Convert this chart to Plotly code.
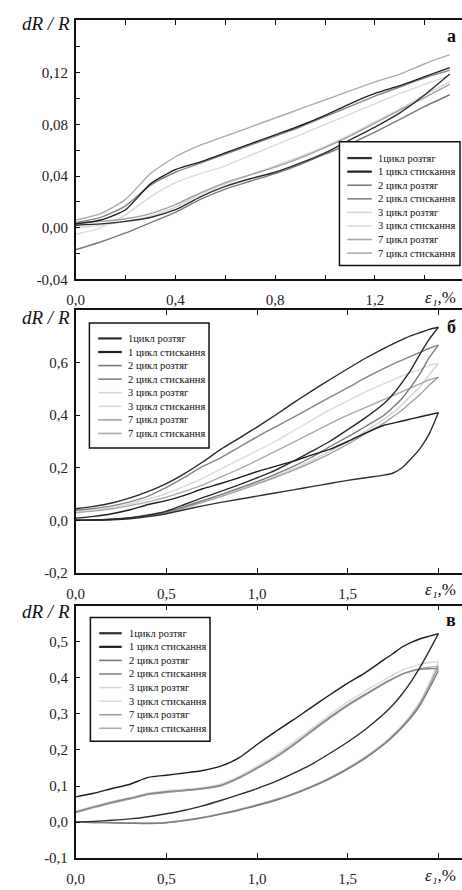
import plotly.graph_objects as go

W, H = 462, 890

# ---------------- data ----------------
SERIES = ["1цикл розтяг", "1 цикл стискання", "2 цикл розтяг", "2 цикл стискання",
          "3 цикл розтяг", "3 цикл стискання", "7 цикл розтяг", "7 цикл стискання"]

# panel а
XA = [0.0, 0.1, 0.2, 0.3, 0.4, 0.5, 0.6, 0.7, 0.8, 0.9, 1.0, 1.1, 1.2, 1.3, 1.4, 1.5]
A_T1 = [0.002, 0.003, 0.005, 0.008, 0.014, 0.024, 0.032, 0.038, 0.043, 0.050, 0.058, 0.068, 0.078, 0.089, 0.103, 0.119]
A_C1 = [0.003, 0.006, 0.014, 0.034, 0.045, 0.051, 0.058, 0.065, 0.072, 0.079, 0.087, 0.096, 0.104, 0.110, 0.117, 0.124]
A_T2 = [-0.017, -0.011, -0.004, 0.004, 0.012, 0.022, 0.030, 0.036, 0.042, 0.049, 0.057, 0.065, 0.074, 0.084, 0.094, 0.103]
A_C2 = [0.004, 0.008, 0.017, 0.033, 0.043, 0.050, 0.057, 0.064, 0.071, 0.078, 0.086, 0.094, 0.102, 0.109, 0.116, 0.122]
A_T3 = [0.000, 0.002, 0.005, 0.009, 0.016, 0.026, 0.034, 0.041, 0.048, 0.055, 0.063, 0.072, 0.082, 0.092, 0.103, 0.113]
A_C3 = [-0.005, 0.000, 0.010, 0.024, 0.035, 0.042, 0.048, 0.056, 0.064, 0.072, 0.080, 0.088, 0.096, 0.104, 0.111, 0.118]
A_T7 = [0.004, 0.005, 0.007, 0.011, 0.018, 0.027, 0.035, 0.041, 0.047, 0.054, 0.062, 0.071, 0.081, 0.091, 0.101, 0.111]
A_C7 = [0.006, 0.011, 0.022, 0.042, 0.055, 0.064, 0.071, 0.078, 0.085, 0.092, 0.099, 0.106, 0.113, 0.119, 0.127, 0.134]

# panels б and в share one strain grid
XBC = [0.0, 0.1, 0.2, 0.3, 0.4, 0.5, 0.6, 0.7, 0.8, 0.9, 1.0, 1.1, 1.2, 1.3, 1.4, 1.5,
       1.6, 1.7, 1.75, 1.8, 1.85, 1.9, 1.95, 2.0]

# panel б
B_T1 = [0.000, 0.000, 0.002, 0.006, 0.014, 0.025, 0.040, 0.055, 0.068, 0.080, 0.092, 0.104, 0.116, 0.128, 0.140, 0.152, 0.162, 0.172, 0.180, 0.200, 0.235, 0.275, 0.330, 0.410]
B_C1 = [0.008, 0.015, 0.025, 0.040, 0.060, 0.075, 0.095, 0.120, 0.140, 0.162, 0.185, 0.205, 0.225, 0.248, 0.270, 0.300, 0.333, 0.362, 0.370, 0.378, 0.386, 0.394, 0.402, 0.410]
B_T2 = [0.000, 0.001, 0.004, 0.009, 0.018, 0.032, 0.052, 0.075, 0.098, 0.122, 0.147, 0.175, 0.205, 0.240, 0.280, 0.318, 0.358, 0.400, 0.430, 0.465, 0.510, 0.560, 0.620, 0.667]
B_C2 = [0.038, 0.045, 0.055, 0.070, 0.092, 0.125, 0.163, 0.205, 0.238, 0.278, 0.318, 0.355, 0.392, 0.430, 0.468, 0.505, 0.543, 0.578, 0.595, 0.610, 0.625, 0.640, 0.655, 0.667]
B_T3 = [0.000, 0.001, 0.004, 0.009, 0.018, 0.031, 0.050, 0.072, 0.095, 0.118, 0.142, 0.168, 0.196, 0.228, 0.262, 0.300, 0.340, 0.385, 0.410, 0.440, 0.475, 0.510, 0.555, 0.597]
B_C3 = [0.031, 0.038, 0.048, 0.062, 0.080, 0.102, 0.130, 0.160, 0.195, 0.230, 0.265, 0.300, 0.340, 0.380, 0.420, 0.455, 0.490, 0.520, 0.535, 0.550, 0.562, 0.575, 0.590, 0.597]
B_T7 = [0.000, 0.001, 0.003, 0.008, 0.016, 0.029, 0.047, 0.068, 0.090, 0.113, 0.138, 0.163, 0.190, 0.220, 0.253, 0.290, 0.330, 0.370, 0.395, 0.420, 0.450, 0.480, 0.515, 0.545]
B_C7 = [0.029, 0.035, 0.044, 0.056, 0.070, 0.088, 0.110, 0.135, 0.165, 0.195, 0.228, 0.262, 0.297, 0.332, 0.367, 0.400, 0.430, 0.460, 0.475, 0.490, 0.505, 0.520, 0.535, 0.545]
# additional dark loop of panel б (peak 0.735)
B_EXTRA_T = [0.000, 0.001, 0.004, 0.010, 0.020, 0.035, 0.060, 0.086, 0.110, 0.135, 0.162, 0.190, 0.225, 0.262, 0.300, 0.345, 0.392, 0.445, 0.480, 0.525, 0.575, 0.635, 0.690, 0.735]
B_EXTRA_C = [0.044, 0.053, 0.066, 0.085, 0.110, 0.140, 0.178, 0.222, 0.270, 0.312, 0.355, 0.400, 0.447, 0.492, 0.535, 0.577, 0.618, 0.655, 0.672, 0.688, 0.703, 0.715, 0.727, 0.735]

# panel в
C_T1 = [0.000, 0.002, 0.005, 0.009, 0.015, 0.023, 0.033, 0.045, 0.060, 0.076, 0.093, 0.112, 0.135, 0.160, 0.190, 0.222, 0.258, 0.300, 0.325, 0.355, 0.390, 0.430, 0.475, 0.522]
C_C1 = [0.070, 0.080, 0.093, 0.105, 0.124, 0.130, 0.136, 0.143, 0.155, 0.178, 0.215, 0.250, 0.283, 0.318, 0.352, 0.385, 0.415, 0.450, 0.467, 0.485, 0.498, 0.508, 0.515, 0.522]
C_T2 = [0.000, -0.001, -0.002, -0.003, -0.004, -0.002, 0.004, 0.012, 0.022, 0.033, 0.046, 0.060, 0.077, 0.097, 0.120, 0.147, 0.178, 0.215, 0.237, 0.262, 0.290, 0.325, 0.370, 0.420]
C_C2 = [0.028, 0.042, 0.055, 0.066, 0.078, 0.084, 0.088, 0.093, 0.102, 0.123, 0.150, 0.180, 0.215, 0.253, 0.290, 0.325, 0.355, 0.385, 0.398, 0.410, 0.418, 0.423, 0.425, 0.425]
C_T3 = [0.000, 0.000, -0.001, -0.002, -0.003, -0.001, 0.005, 0.013, 0.023, 0.034, 0.047, 0.062, 0.079, 0.099, 0.123, 0.150, 0.182, 0.220, 0.243, 0.268, 0.298, 0.335, 0.385, 0.445]
C_C3 = [0.030, 0.044, 0.057, 0.068, 0.080, 0.087, 0.091, 0.096, 0.106, 0.127, 0.155, 0.186, 0.221, 0.259, 0.297, 0.333, 0.364, 0.394, 0.408, 0.421, 0.430, 0.437, 0.442, 0.445]
C_T7 = [0.000, -0.001, -0.002, -0.003, -0.003, -0.001, 0.005, 0.013, 0.023, 0.035, 0.048, 0.062, 0.079, 0.099, 0.122, 0.149, 0.180, 0.217, 0.240, 0.265, 0.294, 0.330, 0.378, 0.432]
C_C7 = [0.026, 0.040, 0.053, 0.064, 0.076, 0.082, 0.087, 0.092, 0.100, 0.121, 0.148, 0.178, 0.212, 0.250, 0.287, 0.322, 0.353, 0.383, 0.397, 0.410, 0.419, 0.425, 0.429, 0.432]

# tick labels (labelled) and unlabelled tick positions
A_XTICKS = [0.0, 0.4, 0.8, 1.2]
A_XLABELS = ["0,0", "0,4", "0,8", "1,2"]
A_XMINOR = [0.2, 0.6, 1.0, 1.4]
A_YTICKS = [-0.04, 0.0, 0.04, 0.08, 0.12]
A_YLABELS = ["-0,04", "0,00", "0,04", "0,08", "0,12"]
A_YMINOR = [-0.02, 0.02, 0.06, 0.10, 0.14]
BC_XTICKS = [0.0, 0.5, 1.0, 1.5]
BC_XLABELS = ["0,0", "0,5", "1,0", "1,5"]
BC_XMINOR = [2.0]
B_YTICKS = [-0.2, 0.0, 0.2, 0.4, 0.6]
B_YLABELS = ["-0,2", "0,0", "0,2", "0,4", "0,6"]
C_YTICKS = [-0.1, 0.0, 0.1, 0.2, 0.3, 0.4, 0.5]
C_YLABELS = ["-0,1", "0,0", "0,1", "0,2", "0,3", "0,4", "0,5"]

# ---------------- styles ----------------
COLORS = ["#2e2e2e", "#1e1e1e", "#7a7a7a", "#848484", "#d4d4d4", "#dadada", "#a2a2a2", "#aaaaaa"]
LEG_WIDTHS = [2.2, 2.2, 1.6, 1.6, 1.6, 1.6, 1.6, 1.6]
DRAW_ORDER = [4, 5, 6, 7, 2, 3, 0, 1]
SERIF = "Liberation Serif"


def fx(px):
    return px / W


def fy(py):
    return 1 - py / H


fig = go.Figure()

panels = [
    (XA, [A_T1, A_C1, A_T2, A_C2, A_T3, A_C3, A_T7, A_C7], "x", "y"),
    (XBC, [B_T1, B_C1, B_T2, B_C2, B_T3, B_C3, B_T7, B_C7], "x2", "y2"),
    (XBC, [C_T1, C_C1, C_T2, C_C2, C_T3, C_C3, C_T7, C_C7], "x3", "y3"),
]

for xs, ys_list, xa, ya in panels:
    for i in DRAW_ORDER:
        fig.add_trace(go.Scatter(x=xs, y=ys_list[i], mode="lines", name=SERIES[i],
                                 line=dict(color=COLORS[i], width=1.4, shape="spline", smoothing=0.6),
                                 xaxis=xa, yaxis=ya, showlegend=False))
    if xa == "x2":
        for ys in (B_EXTRA_T, B_EXTRA_C):
            fig.add_trace(go.Scatter(x=xs, y=ys, mode="lines",
                                     line=dict(color="#2a2a2a", width=1.4, shape="spline", smoothing=0.6),
                                     xaxis=xa, yaxis=ya, showlegend=False, hoverinfo="skip"))

tickfont = dict(family=SERIF, size=15, color="#222")
common = dict(showline=True, linecolor="#111", linewidth=1.6, ticks="inside", ticklen=5,
              tickwidth=1.4, tickcolor="#111", showgrid=False, zeroline=False, tickfont=tickfont)


def minor(vals):
    return dict(tickmode="array", tickvals=vals, ticks="inside", ticklen=5, tickwidth=1.4,
                tickcolor="#111", showgrid=False)


xd = [fx(68), 1.0]
fig.update_layout(
    width=W, height=H, margin=dict(l=0, r=0, t=0, b=0),
    paper_bgcolor="white", plot_bgcolor="white", showlegend=False,
    xaxis=dict(domain=xd, range=[0, 1.549], anchor="y", tickmode="array", tickvals=A_XTICKS,
               ticktext=A_XLABELS, minor=minor(A_XMINOR), mirror="ticks", ticklabelstandoff=6, **common),
    yaxis=dict(domain=[fy(282), fy(20)], range=[-0.04, 0.161], anchor="x", tickmode="array",
               tickvals=A_YTICKS, ticktext=A_YLABELS, minor=minor(A_YMINOR), ticklabelstandoff=3, **common),
    xaxis2=dict(domain=xd, range=[0, 2.13], anchor="y2", tickmode="array", tickvals=BC_XTICKS,
                ticktext=BC_XLABELS, minor=minor(BC_XMINOR), mirror="ticks", ticklabelstandoff=6, **common),
    yaxis2=dict(domain=[fy(578), fy(313)], range=[-0.2, 0.8], anchor="x2", tickmode="array",
                tickvals=B_YTICKS, ticktext=B_YLABELS, ticklabelstandoff=3, **common),
    xaxis3=dict(domain=xd, range=[0, 2.13], anchor="y3", tickmode="array", tickvals=BC_XTICKS,
                ticktext=BC_XLABELS, minor=minor(BC_XMINOR), mirror="ticks", ticklabelstandoff=6, **common),
    yaxis3=dict(domain=[fy(866), fy(611)], range=[-0.1, 0.6], anchor="x3", tickmode="array",
                tickvals=C_YTICKS, ticktext=C_YLABELS, ticklabelstandoff=3, **common),
)

annotations = []
shapes = []

# axis titles, panel letters
for ytitle, yeps, letter, yletter in [(24, 300, "а", 36), (320, 595, "б", 330), (617, 883, "в", 626)]:
    annotations.append(dict(text="<i>dR / R</i>", x=fx(11), y=fy(ytitle), xref="paper", yref="paper",
                            xanchor="left", yanchor="middle", showarrow=False,
                            font=dict(family=SERIF, size=19, color="#111")))
    annotations.append(dict(text="<i>ε₁</i>,%", x=fx(440), y=fy(yeps), xref="paper", yref="paper",
                            xanchor="center", yanchor="middle", showarrow=False,
                            font=dict(family=SERIF, size=17, color="#111")))
    annotations.append(dict(text="<b>" + letter + "</b>", x=fx(458), y=fy(yletter), xref="paper", yref="paper",
                            xanchor="right", yanchor="middle", showarrow=False,
                            font=dict(family=SERIF, size=18, color="#111")))

# legends (one per panel)
for (bx0, bx1, by0, by1, lx0, lx1, tx, ry0) in [
        (337, 460, 143, 268, 345, 370, 374, 159.5),
        (82, 204, 326, 452, 91, 115, 119, 341.5),
        (83, 205, 623, 748, 92, 115, 120, 639.0)]:
    shapes.append(dict(type="rect", xref="paper", yref="paper", x0=fx(bx0), x1=fx(bx1),
                       y0=fy(by1), y1=fy(by0), line=dict(color="#111", width=1.5),
                       fillcolor="white", layer="above"))
    for i, name in enumerate(SERIES):
        yy = fy(ry0 + i * 13.7)
        shapes.append(dict(type="line", xref="paper", yref="paper", x0=fx(lx0), x1=fx(lx1),
                           y0=yy, y1=yy, line=dict(color=COLORS[i], width=LEG_WIDTHS[i]), layer="above"))
        annotations.append(dict(text=name, x=fx(tx), y=yy, xref="paper", yref="paper",
                                xanchor="left", yanchor="middle", showarrow=False,
                                font=dict(family=SERIF, size=10.5, color="#111")))

fig.update_layout(annotations=annotations, shapes=shapes)
fig.write_html("out.html")
